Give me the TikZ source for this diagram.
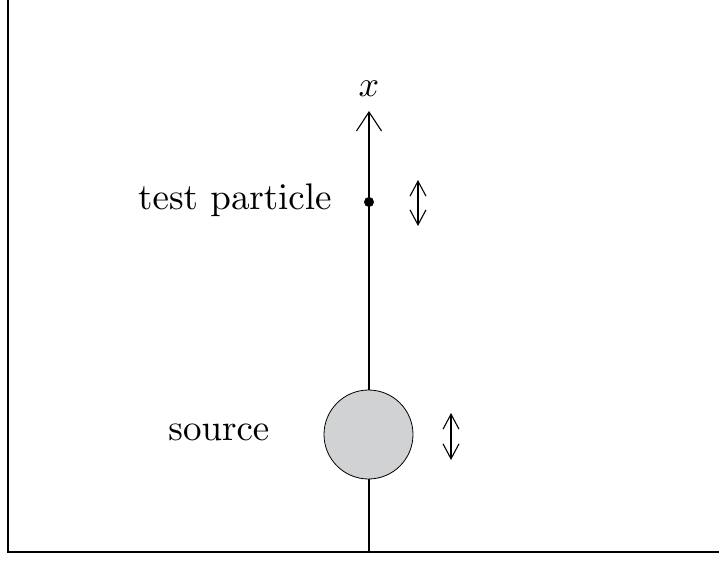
\documentclass[tikz,border=0pt]{standalone}
\usetikzlibrary{arrows.meta}
\font\lblfont=cmr10 at 37pt
\font\mathxfont=cmmi10 at 36pt
\begin{document}
\begin{tikzpicture}[x=1pt,y=-1pt,
  lbl/.style={inner sep=0pt,anchor=base,font=\lblfont},
  axisline/.style={line width=1.8pt,-{Straight Barb[length=19pt,width=25pt,line width=1.1pt]}},
  osc/.style={line width=1.1pt,{Straight Barb[length=15pt,width=16pt,line width=1.1pt]}-{Straight Barb[length=15pt,width=16pt,line width=1.1pt]}},
  frameline/.style={line width=2pt,line cap=rect}]
\useasboundingbox (0,0) rectangle (719,564);
\draw[frameline] (8,-2) -- (8,552) -- (721,552);
\coordinate (bot) at (369,552);
\coordinate (top) at (369,111);
\draw[axisline] (bot) -- (top);
\node[lbl,font=\mathxfont] (xl) at (369,97) {x};
\fill (369,202) circle (5) coordinate (tp);
\node[circle,draw,line width=0.8pt,fill={rgb,255:red,208;green,210;blue,212},minimum size=89pt,inner sep=0pt] (src) at (368.5,434.5) {};
\node[lbl] (tpl) at (235,209) {test particle};
\node[lbl] (srcl) at (219,440) {source};
\coordinate (a1) at (418,180);
\coordinate (a2) at (418,226);
\coordinate (b1) at (451,413);
\coordinate (b2) at (451,460);
\draw[osc] (a1) -- (a2);
\draw[osc] (b1) -- (b2);
\end{tikzpicture}
\end{document}
